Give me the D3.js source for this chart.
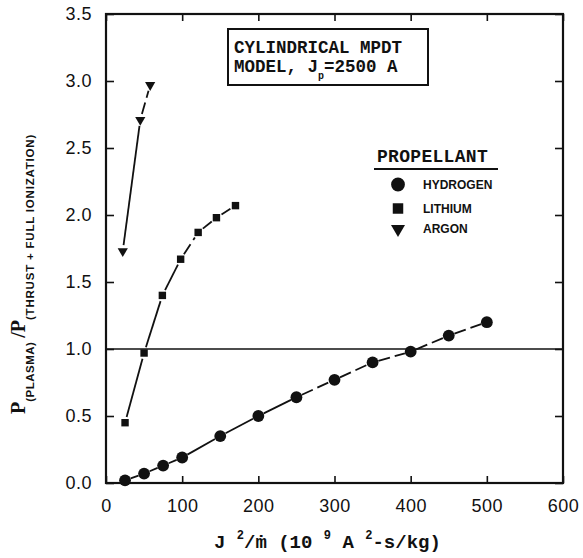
<!DOCTYPE html>
<html>
<head>
<meta charset="utf-8">
<script src="https://cdn.jsdelivr.net/npm/d3@7"></script>
<style>
  body { margin: 0; background: #fff; }
  text { fill: #111; }
</style>
</head>
<body>
<div id="chart"></div>
<script>
// values
const xTicks = [0, 100, 200, 300, 400, 500, 600];
const yTicks = [0, 0.5, 1, 1.5, 2, 2.5, 3, 3.5];

const hydrogenX = [25, 50, 75, 100, 150, 200, 250, 300, 350, 400, 450, 500];
const hydrogenY = [0.02, 0.07, 0.13, 0.19, 0.35, 0.5, 0.64, 0.77, 0.9, 0.98, 1.1, 1.2];

const lithiumX = [25, 50, 74, 98, 121, 145, 170];
const lithiumY = [0.45, 0.97, 1.4, 1.67, 1.87, 1.98, 2.07];

const argonX = [22, 45, 58];
const argonY = [1.73, 2.71, 2.97];

const refLine = 1.0;

const width = 583;
const height = 558;
const margin = { top: 14, right: 20, bottom: 75, left: 106 };

const x = d3.scaleLinear().domain([0, 600]).range([margin.left, width - margin.right]);
const y = d3.scaleLinear().domain([0, 3.5]).range([height - margin.bottom, margin.top]);

const svg = d3.create("svg")
  .attr("width", width)
  .attr("height", height)
  .attr("viewBox", [0, 0, width, height]);

const ink = "#111";
const tickFont = "'Liberation Sans', Arial, sans-serif";
const monoFont = "'Liberation Mono', 'Courier New', monospace";

// frame axes, all ticks pointing inward
const fmt = d3.format(".1f");
svg.append("g")
  .attr("transform", `translate(${margin.left},0)`)
  .call(d3.axisLeft(y).tickValues(yTicks).tickFormat(fmt).tickSizeInner(-8).tickSizeOuter(0).tickPadding(14))
  .call((g) => g.selectAll("text").attr("font-size", 18).attr("font-family", tickFont).attr("letter-spacing", 0.5));

svg.append("g")
  .attr("transform", `translate(0,${height - margin.bottom})`)
  .call(d3.axisBottom(x).tickValues(xTicks).tickSizeInner(-7).tickSizeOuter(0).tickPadding(16))
  .call((g) => g.selectAll("text").attr("font-size", 18).attr("font-family", tickFont).attr("letter-spacing", 0.5));

svg.append("g")
  .attr("transform", `translate(0,${margin.top})`)
  .call(d3.axisTop(x).tickValues(xTicks).tickFormat("").tickSizeInner(-7).tickSizeOuter(0));

svg.append("g")
  .attr("transform", `translate(${width - margin.right},0)`)
  .call(d3.axisRight(y).tickValues(yTicks).tickFormat("").tickSizeInner(-8).tickSizeOuter(0));

svg.selectAll(".domain").remove();
svg.selectAll(".tick line").attr("stroke", ink).attr("stroke-width", 1.6);

svg.append("rect")
  .attr("x", margin.left)
  .attr("y", margin.top)
  .attr("width", width - margin.left - margin.right)
  .attr("height", height - margin.top - margin.bottom)
  .attr("fill", "none")
  .attr("stroke", ink)
  .attr("stroke-width", 2.2);

// horizontal reference at ratio = 1
svg.append("line")
  .attr("x1", x(0))
  .attr("x2", x(600))
  .attr("y1", y(refLine))
  .attr("y2", y(refLine))
  .attr("stroke", ink)
  .attr("stroke-width", 1.6);

const series = [
  { name: "HYDROGEN", xs: hydrogenX, ys: hydrogenY, symbol: d3.symbolCircle, size: 110, solid: [3, 4, 5] },
  { name: "LITHIUM", xs: lithiumX, ys: lithiumY, symbol: d3.symbolSquare, size: 55, solid: [0, 1, 2] },
  { name: "ARGON", xs: argonX, ys: argonY, symbol: d3.symbolTriangle, size: 45, solid: [0] }
];

// connecting lines, broken near each marker like the original drawing
series.forEach((s) => {
  const pts = s.xs.map((v, i) => [x(v), y(s.ys[i])]);
  const segs = d3.pairs(pts);
  svg.append("g")
    .selectAll("line")
    .data(segs)
    .join("line")
    .each(function ([a, b], i) {
      const dx = b[0] - a[0];
      const dy = b[1] - a[1];
      const len = Math.hypot(dx, dy);
      const gap = Math.min(6, len / 3);
      d3.select(this)
        .attr("x1", a[0] + (dx / len) * gap)
        .attr("y1", a[1] + (dy / len) * gap)
        .attr("x2", b[0] - (dx / len) * gap)
        .attr("y2", b[1] - (dy / len) * gap)
        .attr("stroke-dasharray", s.solid.includes(i) ? null : "12,5");
    })
    .attr("stroke", ink)
    .attr("stroke-width", 1.8);

  svg.append("g")
    .selectAll("path")
    .data(pts)
    .join("path")
    .attr("transform", (d) => `translate(${d[0]},${d[1]})${s.symbol === d3.symbolTriangle ? " rotate(180)" : ""}`)
    .attr("d", d3.symbol(s.symbol, s.size))
    .attr("fill", ink);
});

// title box
const box = svg.append("g").attr("transform", "translate(228,29)");
box.append("rect")
  .attr("width", 200)
  .attr("height", 56)
  .attr("fill", "#fff")
  .attr("stroke", ink)
  .attr("stroke-width", 2);
box.append("text")
  .attr("x", 6)
  .attr("y", 24)
  .attr("font-family", monoFont)
  .attr("font-weight", "bold")
  .attr("font-size", 17.5)
  .text("CYLINDRICAL MPDT");
const l2 = box.append("text")
  .attr("x", 6)
  .attr("y", 43)
  .attr("font-family", monoFont)
  .attr("font-weight", "bold")
  .attr("font-size", 17.5);
l2.append("tspan").text("MODEL, J");
l2.append("tspan").attr("font-size", 10).attr("dy", 7).text("p");
l2.append("tspan").attr("dy", -7).text("=2500 A");

// legend
const legend = svg.append("g").attr("transform", "translate(374,0)");
legend.append("text")
  .attr("x", 3)
  .attr("y", 162)
  .attr("font-family", monoFont)
  .attr("font-weight", "bold")
  .attr("font-size", 18)
  .attr("letter-spacing", 0.3)
  .text("PROPELLANT");
legend.append("line")
  .attr("x1", 0)
  .attr("x2", 124)
  .attr("y1", 169)
  .attr("y2", 169)
  .attr("stroke", ink)
  .attr("stroke-width", 2);

const legendRows = legend.selectAll(".row")
  .data(series)
  .join("g")
  .attr("transform", (d, i) => `translate(0,${[184.5, 208.5, 229][i]})`);
legendRows.append("path")
  .attr("transform", (d) => `translate(24,0)${d.symbol === d3.symbolTriangle ? " rotate(180)" : ""}`)
  .attr("d", (d) => d3.symbol(d.symbol, d.symbol === d3.symbolCircle ? 150 : d.symbol === d3.symbolSquare ? 110 : 85)())
  .attr("fill", ink);
legendRows.append("text")
  .attr("x", 49)
  .attr("dy", "0.36em")
  .attr("font-family", tickFont)
  .attr("font-weight", "bold")
  .attr("font-size", 12)
  .text((d) => d.name);

// x-axis title
const xt = svg.append("text")
  .attr("x", 214)
  .attr("y", 548)
  .attr("font-family", monoFont)
  .attr("font-weight", "bold")
  .attr("font-size", 19)
  .attr("xml:space", "preserve")
  .style("white-space", "pre");
xt.append("tspan").text("J ");
xt.append("tspan").attr("font-size", 12).attr("dy", -9).text("2");
xt.append("tspan").attr("dy", 9).text("/\u1E41 (10 ");
xt.append("tspan").attr("font-size", 12).attr("dy", -9).text("9");
xt.append("tspan").attr("dy", 9).text(" A ");
xt.append("tspan").attr("font-size", 12).attr("dy", -9).text("2");
xt.append("tspan").attr("dy", 9).text("-s/kg)");

// y-axis title, rotated
const yt = svg.append("text")
  .attr("transform", "translate(25,414) rotate(-90)")
  .attr("font-weight", "bold")
  .style("white-space", "pre");
yt.append("tspan").attr("font-family", "'Liberation Serif', serif").attr("font-size", 20).text("P");
yt.append("tspan").attr("font-family", tickFont).attr("font-size", 11.5).attr("dy", 9).attr("letter-spacing", 0.5).text("(PLASMA) ");
yt.append("tspan").attr("font-family", "'Liberation Serif', serif").attr("font-size", 20).attr("dy", -9).text("/P");
yt.append("tspan").attr("font-family", tickFont).attr("font-size", 11.5).attr("dy", 9).attr("letter-spacing", 0.8).text("(THRUST + FULL IONIZATION)");

document.getElementById("chart").appendChild(svg.node());
</script>
</body>
</html>
